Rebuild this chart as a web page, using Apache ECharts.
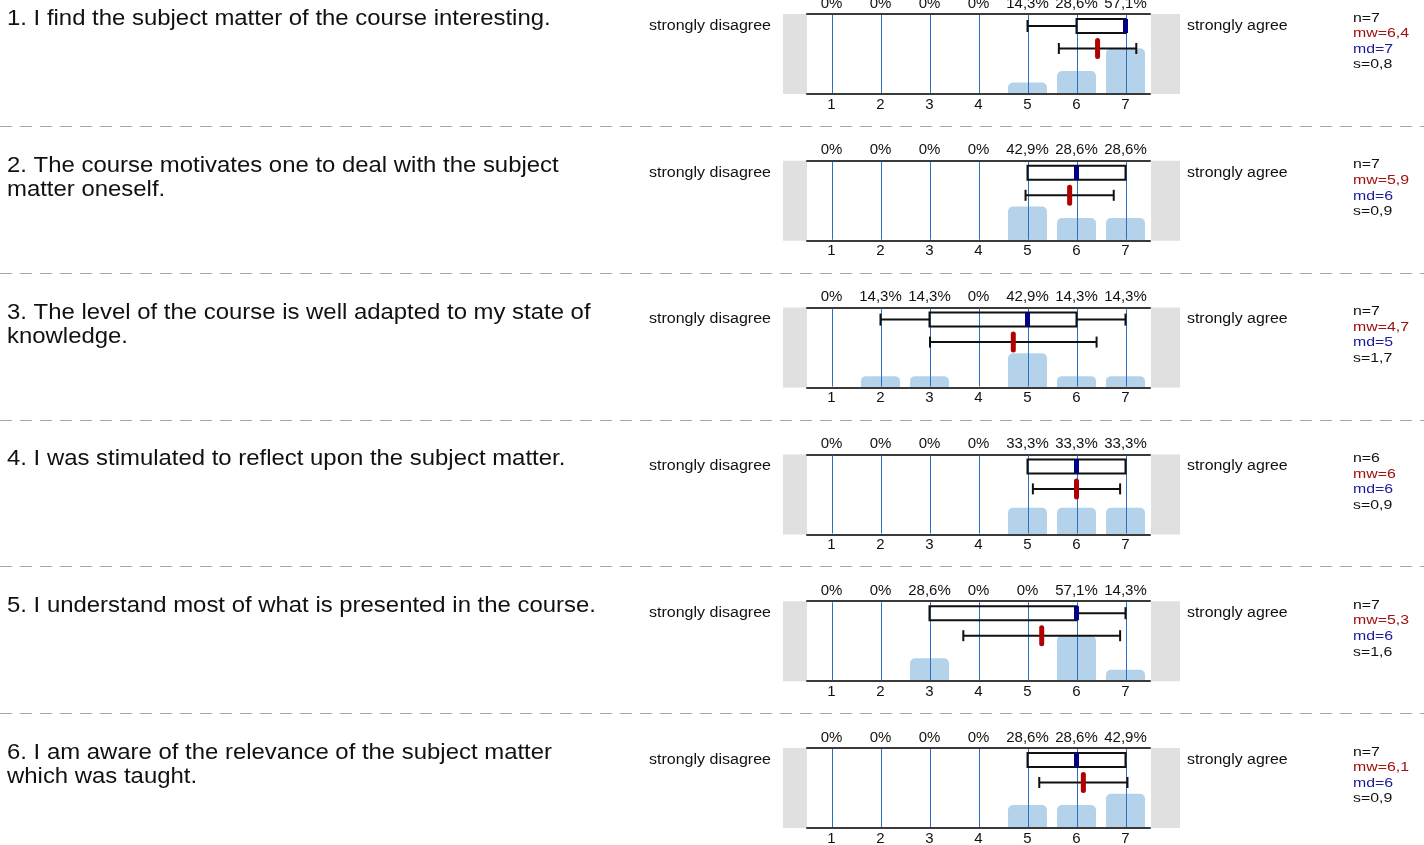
<!DOCTYPE html>
<html>
<head>
<meta charset="utf-8">
<script src="https://cdn.jsdelivr.net/npm/echarts@6/dist/echarts.min.js"></script>
<style>
html,body{margin:0;padding:0;background:#fff;}
#main{width:1424px;height:845px;}
</style>
</head>
<body>
<div id="main"></div>
<script>
// ---------- DATA ----------
const questions = [
  "1. I find the subject matter of the course interesting.",
  "2. The course motivates one to deal with the subject\nmatter oneself.",
  "3. The level of the course is well adapted to my state of\nknowledge.",
  "4. I was stimulated to reflect upon the subject matter.",
  "5. I understand most of what is presented in the course.",
  "6. I am aware of the relevance of the subject matter\nwhich was taught."
];
const scaleLabels = ["1", "2", "3", "4", "5", "6", "7"];
const scaleTicks = [1, 2, 3, 4, 5, 6, 7];
const leftPole = "strongly disagree";
const rightPole = "strongly agree";

const pctQ1 = [0, 0, 0, 0, 14.3, 28.6, 57.1];
const pctQ2 = [0, 0, 0, 0, 42.9, 28.6, 28.6];
const pctQ3 = [0, 14.3, 14.3, 0, 42.9, 14.3, 14.3];
const pctQ4 = [0, 0, 0, 0, 33.3, 33.3, 33.3];
const pctQ5 = [0, 0, 28.6, 0, 0, 57.1, 14.3];
const pctQ6 = [0, 0, 0, 0, 28.6, 28.6, 42.9];

// box plot: [min, q1, median, q3, max]
const boxQ1 = [5, 6, 7, 7, 7];
const boxQ2 = [5, 5, 6, 7, 7];
const boxQ3 = [2, 3, 5, 6, 7];
const boxQ4 = [5, 5, 6, 7, 7];
const boxQ5 = [3, 3, 6, 6, 7];
const boxQ6 = [5, 5, 6, 7, 7];

const counts = [7, 7, 7, 6, 7, 7];
const means = [6.43, 5.86, 4.71, 6.0, 5.29, 6.14];
const medians = [7, 6, 5, 6, 6, 6];
const stdDevs = [0.79, 0.90, 1.70, 0.89, 1.60, 0.90];

const pcts = [pctQ1, pctQ2, pctQ3, pctQ4, pctQ5, pctQ6];
const boxes = [boxQ1, boxQ2, boxQ3, boxQ4, boxQ5, boxQ6];

// ---------- LAYOUT ----------
const FONT = "'Liberation Sans', Arial, Helvetica, sans-serif";
const ROW0 = 14, STEP = 146.8, PH = 80, GL = 807, GW = 343;
const GRID_BLUE = "#2a6fc0";
const rowTop = i => ROW0 + i * STEP;

function fmtNum(v) {
  let s = v.toFixed(1);
  if (s.endsWith(".0")) s = s.slice(0, -2);
  return s.replace(".", ",");
}
function fmtPct(v) { return v === 0 ? "0%" : v.toFixed(1).replace(".", ",") + "%"; }

const grids = [], xAxes = [], yAxes = [], series = [], graphics = [];
const noSplit = { show: false, showMinLine: false, showMaxLine: false, lineStyle: { color: "rgba(0,0,0,0)", width: 0 } };

questions.forEach((q, i) => {
  const top = rowTop(i);
  grids.push({ left: GL, top: top, width: GW, height: PH, containLabel: false, outerBoundsMode: "none" });
  const axLine = { show: true, lineStyle: { color: "#3a3a3a", width: 2 } };
  const lbl = { fontFamily: FONT, fontSize: 15, color: "#111", margin: 3, interval: 0 };
  xAxes.push({ type: "category", gridIndex: i, position: "bottom", data: scaleLabels,
    boundaryGap: true, axisLine: axLine, axisTick: { show: false }, axisLabel: lbl,
    splitLine: noSplit, splitArea: { show: false }, z: 10 });
  xAxes.push({ type: "category", gridIndex: i, position: "top", data: pcts[i].map(fmtPct),
    boundaryGap: true, axisLine: axLine, axisTick: { show: false }, axisLabel: lbl,
    splitLine: noSplit, splitArea: { show: false }, z: 10 });
  xAxes.push({ type: "value", gridIndex: i, min: 0.5, max: 7.5, position: "bottom",
    axisLine: { show: false }, axisLabel: { show: false }, axisTick: { show: false },
    splitLine: noSplit, minorSplitLine: { show: false }, splitArea: { show: false } });
  yAxes.push({ type: "value", gridIndex: i, min: 0, max: 100,
    axisLine: { show: false }, axisLabel: { show: false }, axisTick: { show: false },
    splitLine: noSplit, minorSplitLine: { show: false }, splitArea: { show: false } });

  series.push({
    type: "bar", xAxisIndex: 3 * i, yAxisIndex: i, data: pcts[i], barWidth: 39,
    itemStyle: { color: "#b4d3eb", borderRadius: [5, 5, 0, 0] }, silent: true, z: 1
  });
  // vertical scale lines at each answer value
  series.push({
    type: "custom", xAxisIndex: 3 * i + 2, yAxisIndex: i, silent: true, z: 20,
    data: scaleTicks.map(t => [t, 0]),
    renderItem: (params, api) => {
      const p0 = api.coord([api.value(0), 0]);
      const p1 = api.coord([api.value(0), 100]);
      return { type: "rect", shape: { x: Math.round(p0[0]), y: p1[1] + 1, width: 1, height: p0[1] - p1[1] - 2 },
        style: { fill: GRID_BLUE } };
    }
  });
  const b = boxes[i];
  series.push({
    type: "custom", xAxisIndex: 3 * i + 2, yAxisIndex: i, silent: true, z: 30,
    data: [[b[0], b[1], b[2], b[3], b[4], means[i], stdDevs[i]]],
    encode: { x: [0, 1, 2, 3, 4], y: [] },
    renderItem: (params, api) => {
      const v = k => api.value(k);
      const X = val => api.coord([val, 100])[0];
      const t = api.coord([v(1), 100])[1];
      const ch = [];
      const stroke = { stroke: "#111", lineWidth: 2 };
      const yw = t + 12;
      if (v(0) < v(1)) {
        ch.push({ type: "line", shape: { x1: X(v(0)), y1: yw, x2: X(v(1)), y2: yw }, style: stroke });
        ch.push({ type: "line", shape: { x1: X(v(0)), y1: yw - 6, x2: X(v(0)), y2: yw + 6 }, style: stroke });
      }
      if (v(4) > v(3)) {
        ch.push({ type: "line", shape: { x1: X(v(3)), y1: yw, x2: X(v(4)), y2: yw }, style: stroke });
        ch.push({ type: "line", shape: { x1: X(v(4)), y1: yw - 6, x2: X(v(4)), y2: yw + 6 }, style: stroke });
      }
      ch.push({ type: "rect", shape: { x: X(v(1)), y: t + 5, width: X(v(3)) - X(v(1)), height: 14 },
        style: { fill: "none", stroke: "#111", lineWidth: 2 } });
      ch.push({ type: "rect", shape: { x: X(v(2)) - 2.5, y: t + 5, width: 5, height: 14 },
        style: { fill: "#000088" } });
      const ym = t + 34.5;
      const lo = X(v(5) - v(6)), hi = X(v(5) + v(6));
      ch.push({ type: "line", shape: { x1: lo, y1: ym, x2: hi, y2: ym }, style: stroke });
      ch.push({ type: "line", shape: { x1: lo, y1: ym - 5.5, x2: lo, y2: ym + 5.5 }, style: stroke });
      ch.push({ type: "line", shape: { x1: hi, y1: ym - 5.5, x2: hi, y2: ym + 5.5 }, style: stroke });
      ch.push({ type: "rect", shape: { x: X(v(5)) - 2.5, y: t + 24, width: 5, height: 21, r: 2.5 },
        style: { fill: "#b00000" } });
      return { type: "group", children: ch };
    }
  });

  // side boxes
  graphics.push({ type: "rect", shape: { x: 783, y: top, width: 24, height: PH }, style: { fill: "#e0e0e0" }, silent: true });
  graphics.push({ type: "rect", shape: { x: 1151, y: top, width: 29, height: PH }, style: { fill: "#e0e0e0" }, silent: true });
  // question text
  graphics.push({ type: "text", x: 7, y: top - 7, scaleX: 1.087, silent: true,
    style: { text: q, font: "22px " + FONT, fill: "#111", lineHeight: 24, textAlign: "left", textVerticalAlign: "top", align: "left", verticalAlign: "top" } });
  graphics.push({ type: "text", x: 771, y: top + 12, scaleX: 1.145, silent: true,
    style: { text: leftPole, font: "14px " + FONT, fill: "#111", textAlign: "right", textVerticalAlign: "middle", align: "right", verticalAlign: "middle" } });
  graphics.push({ type: "text", x: 1187, y: top + 12, scaleX: 1.135, silent: true,
    style: { text: rightPole, font: "14px " + FONT, fill: "#111", textAlign: "left", textVerticalAlign: "middle", align: "left", verticalAlign: "middle" } });
  const stats = [
    ["n=" + counts[i], "#111"],
    ["mw=" + fmtNum(means[i]), "#a01010"],
    ["md=" + medians[i], "#1a1a9e"],
    ["s=" + fmtNum(stdDevs[i]), "#111"]
  ];
  stats.forEach((s, k) => {
    graphics.push({ type: "text", x: 1353, y: top + 4 + k * 15.6, scaleX: 1.22, silent: true,
      style: { text: s[0], font: "13px " + FONT, fill: s[1], textAlign: "left", textVerticalAlign: "middle", align: "left", verticalAlign: "middle" } });
  });
  if (i < questions.length - 1) {
    const yy = Math.round(top + 112) + 0.5;
    graphics.push({ type: "line", shape: { x1: 0, y1: yy, x2: 1424, y2: yy }, silent: true,
      style: { stroke: "#a8a8a8", lineWidth: 1, lineDash: [12, 8] } });
  }
});

const chart = echarts.init(document.getElementById("main"), null, { renderer: "canvas" });
chart.setOption({
  animation: false,
  backgroundColor: "#fff",
  grid: grids,
  xAxis: xAxes,
  yAxis: yAxes,
  series: series,
  graphic: { elements: graphics }
});
</script>
</body>
</html>
